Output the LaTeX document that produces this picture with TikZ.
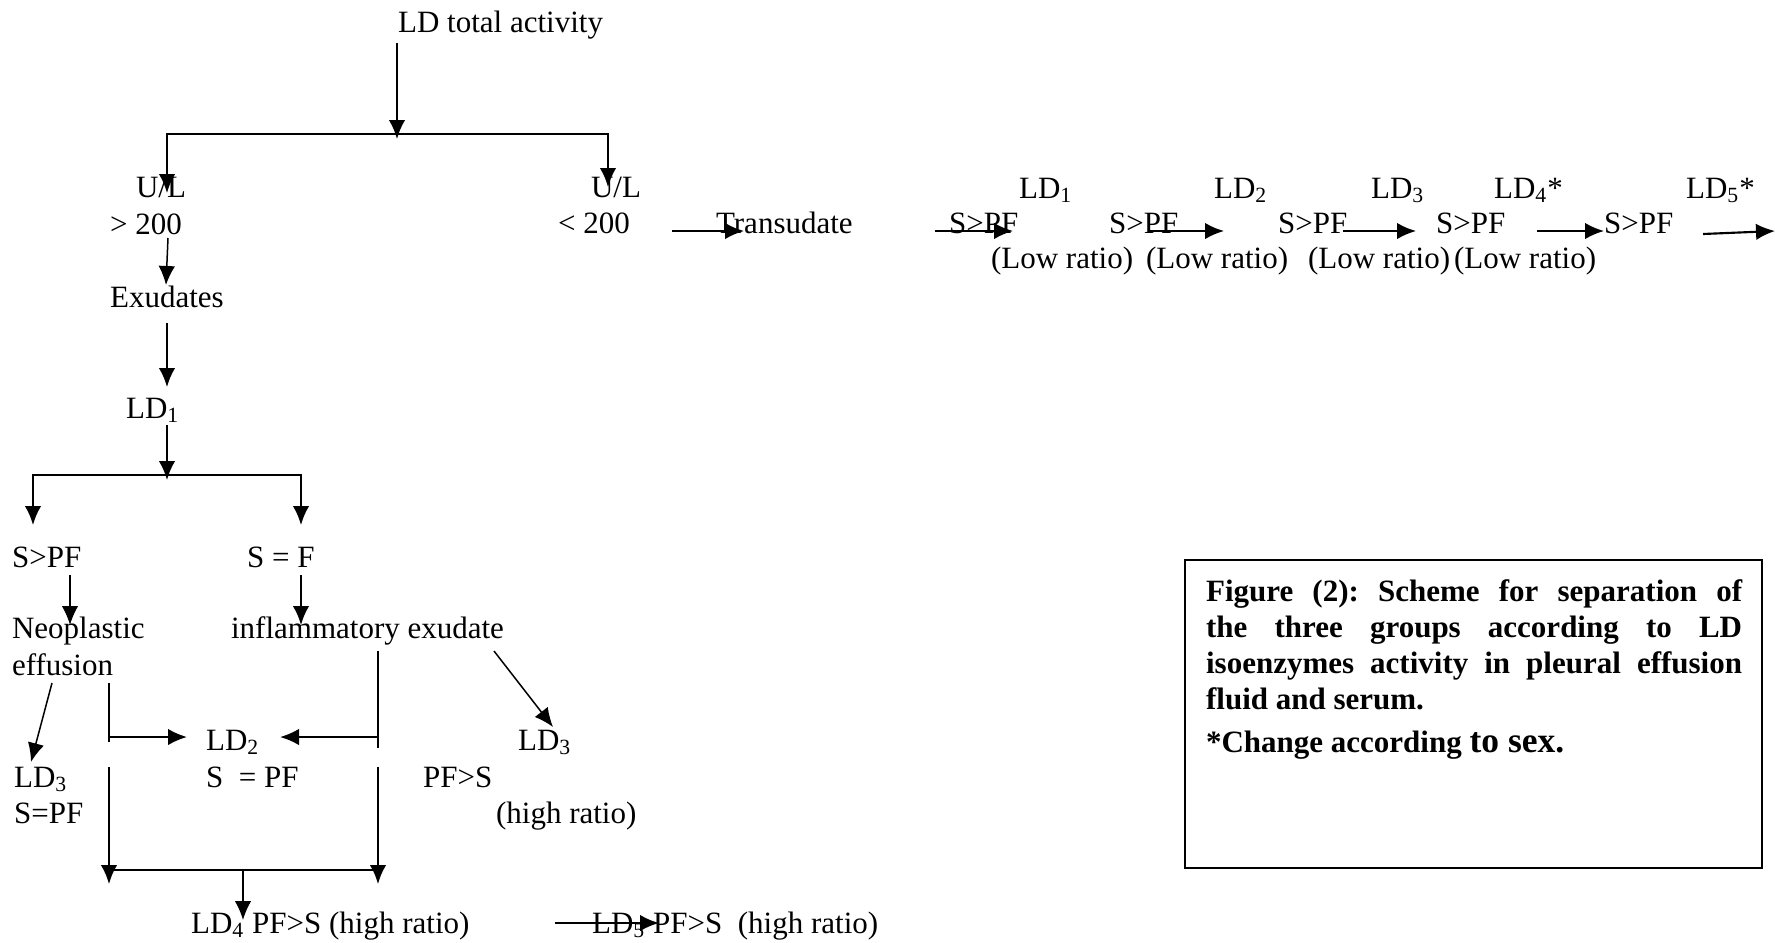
\documentclass[tikz,border=0pt]{standalone}
\usepackage{fontspec}
\setmainfont{Liberation Serif}
\usetikzlibrary{arrows.meta}
\newcommand{\LDn}[1]{LD\textsubscript{#1}}

\begin{document}
\frenchspacing
\begin{tikzpicture}[x=0.4pt, y=-0.4pt, line width=0.85pt,
      font=\fontsize{12.4}{14.4}\selectfont,
      txt/.style={anchor=base west, inner sep=0pt},
      arr/.style={-{Latex[length=7.6pt,width=6.6pt]}},
      fine/.style={line width=0.6pt}]
    \useasboundingbox (0,0) rectangle (1775,942);

    \node[txt] (tot) at (397,32) {LD total activity};
    \node[txt] (ula) at (135,197) {U/L};
    \node[txt] (gt)  at (109,234) {> 200};
    \node[txt] (ulb) at (590,197) {U/L};
    \node[txt] (lt)  at (557,233) {< 200};
    \node[txt] (exu) at (109,307) {Exudates};
    \node[txt] (lda) at (125,418) {\LDn{1}};
    \node[txt] (spa) at (11,567)  {S>PF};
    \node[txt] (sef) at (246,567) {S = F};
    \node[txt] (neo) at (11,638)  {Neoplastic};
    \node[txt] (eff) at (11,675)  {effusion};
    \node[txt] (inf) at (230,638) {inflammatory exudate};
    \node[txt] (ldc) at (13,787)  {\LDn{3}};
    \node[txt] (sep) at (13,823)  {S=PF};
    \node[txt] (ldb) at (205,750) {\LDn{2}};
    \node[txt] (seb) at (205,787) {S\ \ = PF};
    \node[txt] (ldd) at (517,750) {\LDn{3}};
    \node[txt] (pfs) at (422,787) {PF>S};
    \node[txt] (hra) at (495,823) {(high ratio)};
    \node[txt] (ldf) at (190,933) {\LDn{4} PF>S (high ratio)};
    \node[txt] (ldg) at (591,933) {\LDn{5} PF>S\ \ (high ratio)};
    \node[txt] (tra) at (715,233) {Transudate};

    \foreach \i/\sx/\lx in {1/948/1018, 2/1108/1213, 3/1277/1370, 4/1435/1493, 5/1603/1685} {
      \node[txt] (s\i) at (\sx,233) {S>PF};
      \node[txt] (l\i) at (\lx,198) {\LDn{\i}\ifnum\i>3 *\fi};
    }
    \foreach \i/\rx in {1/990, 2/1145, 3/1307, 4/1453}
      \node[txt] (r\i) at (\rx,268) {(Low ratio)};

    \foreach \i/\xa/\xb in {0/672/744, 1/935/1013, 2/1150/1224, 3/1343/1416, 4/1537/1604} {
      \coordinate (p\i) at (\xa,231);
      \coordinate (q\i) at (\xb,231);
      \draw[arr] (p\i) -- (q\i);
    }
    \coordinate (p5) at (1703,234);
    \coordinate (q5) at (1775,231);
    \draw[arr] (p5) -- (q5);

    \coordinate (t0) at (397,43);
    \coordinate (jt) at (397,134);
    \coordinate (t1) at (397,139);
    \coordinate (ea) at (167,193);
    \coordinate (eb) at (608,187);
    \draw[arr] (t0) -- (t1);
    \draw[arr] (jt) -| (ea);
    \draw[arr] (jt) -| (eb);

    \coordinate (g0) at (168,238);
    \coordinate (g1) at (166,285);
    \draw[arr, fine] (g0) -- (g1);
    \coordinate (x0) at (167,323);
    \coordinate (x1) at (167,387);
    \draw[arr] (x0) -- (x1);

    \coordinate (d0) at (167,425);
    \coordinate (jb) at (167,475);
    \coordinate (d1) at (167,480);
    \coordinate (sa) at (33,525);
    \coordinate (sb) at (301,525);
    \draw[arr] (d0) -- (d1);
    \draw[arr] (jb) -| (sa);
    \draw[arr] (jb) -| (sb);

    \coordinate (n0) at (70,575);
    \coordinate (n1) at (70,625);
    \coordinate (i0) at (301,575);
    \coordinate (i1) at (301,625);
    \draw[arr, fine] (n0) -- (n1);
    \draw[arr] (i0) -- (i1);

    \coordinate (e0) at (52,683);
    \coordinate (e1) at (31,762);
    \draw[arr, fine] (e0) -- (e1);
    \coordinate (f0) at (494,651);
    \coordinate (f1) at (553,727);
    \draw[arr, fine] (f0) -- (f1);

    \coordinate (la) at (109,683);
    \coordinate (lb) at (109,742);
    \coordinate (lc) at (109,737);
    \coordinate (ld) at (187,737);
    \draw (la) -- (lb);
    \draw[arr] (lc) -- (ld);
    \coordinate (ra) at (378,651);
    \coordinate (rb) at (378,748);
    \coordinate (rc) at (378,737);
    \coordinate (rd) at (280,737);
    \draw (ra) -- (rb);
    \draw[arr] (rc) -- (rd);

    \coordinate (ua) at (109,767);
    \coordinate (ub) at (109,884);
    \coordinate (va) at (378,767);
    \coordinate (vb) at (378,884);
    \coordinate (ha) at (109,870);
    \coordinate (hb) at (378,870);
    \coordinate (hm) at (243,870);
    \coordinate (hn) at (243,920);
    \draw[arr] (ua) -- (ub);
    \draw[arr] (va) -- (vb);
    \draw (ha) -- (hb);
    \draw[arr, fine] (hm) -- (hn);

    \coordinate (w0) at (555,923);
    \coordinate (w1) at (659,923);
    \draw[arr] (w0) -- (w1);

    \node[draw, anchor=north west, inner sep=0pt, minimum width=230.8pt, minimum height=123.2pt] (box) at (1184,559) {};
    \node[anchor=north west, inner sep=0pt, text width=214.4pt, align=justify,
          font=\fontsize{12.4}{14.4}\selectfont\bfseries] (cap) at (1205,579)
      {Figure (2): Scheme for separation of\linebreak the three groups according to LD\linebreak isoenzymes activity in pleural effusion\linebreak fluid and serum.};
    \node[txt, font=\fontsize{12.4}{14.4}\selectfont\bfseries] (note) at (1205,752)
      {*Change according {\fontsize{14.2}{16}\selectfont to sex.}};
  \end{tikzpicture}
\end{document}
